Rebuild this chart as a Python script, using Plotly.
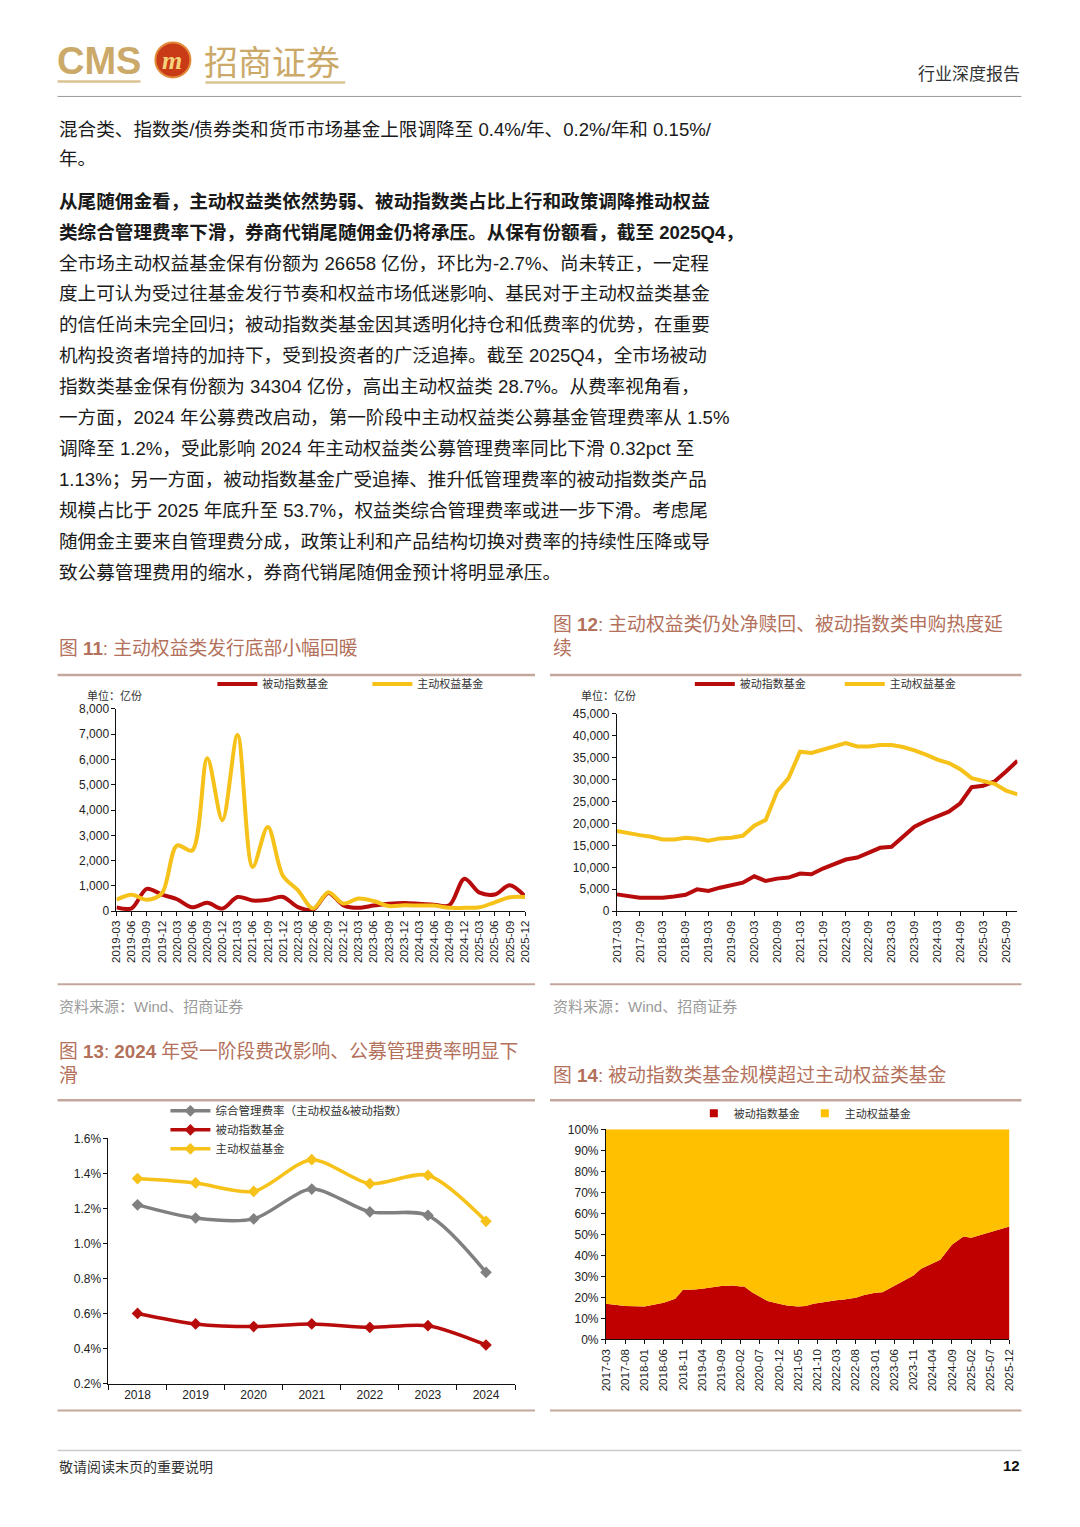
import plotly.graph_objects as go

W, H = 1080, 1527
K = 1 / 0.99  # compensates the slight shrink seen in the photographed page


def X(p):
    return (W / 2 + (p - W / 2) * K) / W


def Y(p):
    return 1 - (H / 2 + (p - H / 2) * K) / H


# ---------------- data ----------------
# Fig 11: quarterly issuance (亿份)
q11 = ["2019-03", "2019-06", "2019-09", "2019-12", "2020-03", "2020-06", "2020-09", "2020-12",
       "2021-03", "2021-06", "2021-09", "2021-12", "2022-03", "2022-06", "2022-09", "2022-12",
       "2023-03", "2023-06", "2023-09", "2023-12", "2024-03", "2024-06", "2024-09", "2024-12",
       "2025-03", "2025-06", "2025-09", "2025-12"]
passive11 = [150, 110, 880, 650, 470, 150, 330, 100, 560, 420, 450, 560, 160, 60, 720, 230,
             130, 220, 290, 320, 290, 250, 230, 1280, 730, 660, 1020, 580]
active11 = [450, 650, 450, 700, 2600, 2400, 6050, 3600, 6970, 1750, 3330, 1400, 820, 100, 750, 300,
            500, 400, 200, 230, 220, 220, 130, 130, 150, 350, 550, 560]

# Fig 12: quarterly holdings (亿份)
q12 = ["2017-03", "2017-06", "2017-09", "2017-12", "2018-03", "2018-06", "2018-09", "2018-12",
       "2019-03", "2019-06", "2019-09", "2019-12", "2020-03", "2020-06", "2020-09", "2020-12",
       "2021-03", "2021-06", "2021-09", "2021-12", "2022-03", "2022-06", "2022-09", "2022-12",
       "2023-03", "2023-06", "2023-09", "2023-12", "2024-03", "2024-06", "2024-09", "2024-12",
       "2025-03", "2025-06", "2025-09", "2025-12"]
passive12 = [3820, 3360, 3060, 3060, 3060, 3360, 3750, 4970, 4590, 5350, 6040, 6500, 7950, 6880,
             7420, 7650, 8560, 8410, 9710, 10700, 11770, 12230, 13460, 14450, 14680, 16970, 19270,
             20570, 21560, 22710, 24620, 28290, 28590, 29590, 31880, 34304]
active12 = [18270, 17700, 17350, 16970, 16360, 16360, 16740, 16500, 16050, 16600, 16740, 17200,
            19500, 20800, 27300, 30350, 36400, 36100, 36850, 37770, 38380, 37600, 37600, 37900,
            37900, 37460, 36700, 35700, 34560, 33800, 32400, 30350, 29740, 29050, 27520, 26658]
ticks12 = ["2017-03", "2017-09", "2018-03", "2018-09", "2019-03", "2019-09", "2020-03", "2020-09",
           "2021-03", "2021-09", "2022-03", "2022-09", "2023-03", "2023-09", "2024-03", "2024-09",
           "2025-03", "2025-09"]

# Fig 13: management fee rate (%)
years13 = ["2018", "2019", "2020", "2021", "2022", "2023", "2024"]
total13 = [1.22, 1.145, 1.14, 1.31, 1.18, 1.16, 0.835]
passive13 = [0.60, 0.54, 0.525, 0.54, 0.52, 0.53, 0.42]
active13 = [1.37, 1.345, 1.297, 1.478, 1.341, 1.389, 1.126]

# Fig 14: share of scale (%)
months14 = ["2017-03", "2017-06", "2017-08", "2018-01", "2018-03", "2018-06", "2018-09", "2018-11",
            "2019-02", "2019-04", "2019-09", "2019-12", "2020-02", "2020-03", "2020-05", "2020-07",
            "2020-09", "2020-12", "2021-02", "2021-05", "2021-07", "2021-09", "2021-10", "2021-12",
            "2022-03", "2022-05", "2022-08", "2022-10", "2023-01", "2023-03", "2023-06", "2023-09",
            "2023-11", "2024-01", "2024-04", "2024-06", "2024-09", "2024-12", "2025-02", "2025-04",
            "2025-07", "2025-12"]
passive14 = [17.0, 16.2, 15.9, 15.7, 16.5, 17.5, 19.4, 23.7, 23.8, 24.1, 25.4, 25.7, 25.2, 25.2,
             22.5, 20.5, 18.3, 17.0, 16.2, 15.7, 15.9, 17.0, 17.3, 17.8, 18.7, 19.0, 19.8, 21.0,
             22.2, 22.5, 25.4, 28.6, 30.5, 33.7, 36.3, 37.9, 45.1, 49.0, 48.4, 49.5, 51.1, 53.7]
active14 = [round(100 - p, 1) for p in passive14]
ticks14 = ["2017-03", "2017-08", "2018-01", "2018-06", "2018-11", "2019-04", "2019-09", "2020-02",
           "2020-07", "2020-12", "2021-05", "2021-10", "2022-03", "2022-08", "2023-01", "2023-06",
           "2023-11", "2024-04", "2024-09", "2025-02", "2025-07", "2025-12"]

RED = "#B80C0C"
YEL = "#F6C21A"
GRAY = "#808080"
AREA_RED = "#C00000"
AREA_YEL = "#FFC000"
TITLE_C = "#B3705A"
FONT = "Liberation Sans, Noto Sans CJK SC"
CJK = "Noto Sans CJK SC"

fig = go.Figure()

# Fig 11
fig.add_trace(go.Scatter(x=q11, y=passive11, name="被动指数基金", mode="lines",
                         line=dict(color=RED, width=4, shape="spline", smoothing=0.9),
                         xaxis="x", yaxis="y", legend="legend"))
fig.add_trace(go.Scatter(x=q11, y=active11, name="主动权益基金", mode="lines",
                         line=dict(color=YEL, width=4, shape="spline", smoothing=0.9),
                         xaxis="x", yaxis="y", legend="legend"))
# Fig 12
fig.add_trace(go.Scatter(x=q12, y=passive12, name="被动指数基金", mode="lines",
                         line=dict(color=RED, width=4),
                         xaxis="x2", yaxis="y2", legend="legend2"))
fig.add_trace(go.Scatter(x=q12, y=active12, name="主动权益基金", mode="lines",
                         line=dict(color=YEL, width=4),
                         xaxis="x2", yaxis="y2", legend="legend2"))
# Fig 13
fig.add_trace(go.Scatter(x=years13, y=total13, name="综合管理费率（主动权益&被动指数）",
                         mode="lines+markers",
                         line=dict(color=GRAY, width=3.5, shape="spline", smoothing=0.8),
                         marker=dict(symbol="diamond", size=9, color=GRAY),
                         xaxis="x3", yaxis="y3", legend="legend3"))
fig.add_trace(go.Scatter(x=years13, y=passive13, name="被动指数基金",
                         mode="lines+markers",
                         line=dict(color=RED, width=3.5, shape="spline", smoothing=0.8),
                         marker=dict(symbol="diamond", size=9, color=RED),
                         xaxis="x3", yaxis="y3", legend="legend3"))
fig.add_trace(go.Scatter(x=years13, y=active13, name="主动权益基金",
                         mode="lines+markers",
                         line=dict(color=YEL, width=3.5, shape="spline", smoothing=0.8),
                         marker=dict(symbol="diamond", size=9, color=YEL),
                         xaxis="x3", yaxis="y3", legend="legend3"))
# Fig 14
fig.add_trace(go.Scatter(x=months14, y=passive14, name="被动指数基金", mode="lines",
                         stackgroup="s", line=dict(width=0, color=AREA_RED), fillcolor=AREA_RED,
                         showlegend=False, xaxis="x4", yaxis="y4"))
fig.add_trace(go.Scatter(x=months14, y=active14, name="主动权益基金", mode="lines",
                         stackgroup="s", line=dict(width=0, color=AREA_YEL), fillcolor=AREA_YEL,
                         showlegend=False, xaxis="x4", yaxis="y4"))
fig.add_trace(go.Scatter(x=[None], y=[None], name="被动指数基金", mode="markers",
                         marker=dict(symbol="square", size=8, color=AREA_RED),
                         xaxis="x4", yaxis="y4", legend="legend4"))
fig.add_trace(go.Scatter(x=[None], y=[None], name="主动权益基金", mode="markers",
                         marker=dict(symbol="square", size=8, color=AREA_YEL),
                         xaxis="x4", yaxis="y4", legend="legend4"))

tickfont = dict(family="Liberation Sans", size=12, color="#222")
rotfont = dict(family="Liberation Sans", size=11.5, color="#222")
common_ax = dict(showgrid=False, zeroline=False, showline=True, linecolor="#111", linewidth=1,
                 ticks="outside", ticklen=4, tickcolor="#111", tickfont=tickfont, fixedrange=True)
legfont = dict(family=CJK, size=11, color="#333")

fig.update_layout(
    width=W, height=H, margin=dict(l=0, r=0, t=0, b=0),
    paper_bgcolor="white", plot_bgcolor="white",
    font=dict(family=FONT, color="#222"),
    xaxis=dict(common_ax, domain=[X(116), X(525)], anchor="y", type="category",
               range=[0, 27], tickangle=-90, tickfont=rotfont),
    yaxis=dict(common_ax, domain=[Y(911), Y(709)], anchor="x", range=[0, 8000], dtick=1000,
               tickformat=","),
    xaxis2=dict(common_ax, domain=[X(617), X(1018)], anchor="y2", type="category",
                range=[0, 35], tickangle=-90, tickvals=ticks12, tickfont=rotfont),
    yaxis2=dict(common_ax, domain=[Y(911), Y(714)], anchor="x2", range=[0, 45000], dtick=5000,
                tickformat=","),
    xaxis3=dict(common_ax, domain=[X(108), X(515)], anchor="y3", type="category",
                range=[-0.5, 6.5], tickson="boundaries", ticklen=5),
    yaxis3=dict(common_ax, domain=[Y(1383), Y(1138)], anchor="x3", range=[0.2, 1.6], dtick=0.2,
                tickformat=".1f", ticksuffix="%"),
    xaxis4=dict(common_ax, domain=[X(606), X(1010)], anchor="y4", type="date",
                range=["2017-03-01", "2025-12-01"], tickvals=ticks14, tickformat="%Y-%m",
                tickangle=-90, tickfont=rotfont),
    yaxis4=dict(common_ax, domain=[Y(1339), Y(1129)], anchor="x4", range=[0, 100], dtick=10,
                ticksuffix="%"),
    legend=dict(orientation="h", x=X(212), y=Y(684), xanchor="left", yanchor="middle",
                font=legfont, bgcolor="rgba(0,0,0,0)", traceorder="normal",
                itemwidth=40, entrywidth=100),
    legend2=dict(orientation="h", x=X(690), y=Y(684), xanchor="left", yanchor="middle",
                 font=legfont, bgcolor="rgba(0,0,0,0)", traceorder="normal",
                 itemwidth=40, entrywidth=95),
    legend3=dict(orientation="v", x=X(165), y=Y(1096), xanchor="left", yanchor="top",
                 font=dict(family=CJK, size=11.5, color="#333"), bgcolor="rgba(0,0,0,0)",
                 traceorder="normal", itemwidth=40, tracegroupgap=0),
    legend4=dict(orientation="h", x=X(694), y=Y(1113), xanchor="left", yanchor="middle",
                 font=legfont, bgcolor="rgba(0,0,0,0)", traceorder="normal",
                 itemwidth=30, entrywidth=0),
)

ann = []


def text(x, y, s, size=18, color="#222", family=FONT, anchor="left", **kw):
    ann.append(dict(xref="paper", yref="paper", x=X(x), y=Y(y), text=s, showarrow=False,
                    xanchor=anchor, yanchor="middle", borderpad=0,
                    font=dict(size=size, color=color, family=family), **kw))


# header
text(55, 62, "<b>CMS</b>", size=38, color="#CBA969", family="Liberation Sans")
text(172, 61, "<b><i>m</i></b>", size=26, color="#F5D27A", family="Liberation Serif", anchor="center")
text(203, 61, "招商证券", size=34, color="#CBA969", family=CJK)
text(1022, 73, "行业深度报告", size=17, color="#333", family=CJK, anchor="right")

# body text
body = [
    (130, "混合类、指数类/债券类和货币市场基金上限调降至 0.4%/年、0.2%/年和 0.15%/"),
    (159, "年。"),
    (202, "<b>从尾随佣金看，主动权益类依然势弱、被动指数类占比上行和政策调降推动权益</b>"),
    (233, "<b>类综合管理费率下滑，券商代销尾随佣金仍将承压。从保有份额看，截至 2025Q4，</b>"),
    (264, "全市场主动权益基金保有份额为 26658 亿份，环比为-2.7%、尚未转正，一定程"),
    (294, "度上可认为受过往基金发行节奏和权益市场低迷影响、基民对于主动权益类基金"),
    (325, "的信任尚未完全回归；被动指数类基金因其透明化持仓和低费率的优势，在重要"),
    (356, "机构投资者增持的加持下，受到投资者的广泛追捧。截至 2025Q4，全市场被动"),
    (387, "指数类基金保有份额为 34304 亿份，高出主动权益类 28.7%。从费率视角看，"),
    (418, "一方面，2024 年公募费改启动，第一阶段中主动权益类公募基金管理费率从 1.5%"),
    (449, "调降至 1.2%，受此影响 2024 年主动权益类公募管理费率同比下滑 0.32pct 至"),
    (480, "1.13%；另一方面，被动指数基金广受追捧、推升低管理费率的被动指数类产品"),
    (511, "规模占比于 2025 年底升至 53.7%，权益类综合管理费率或进一步下滑。考虑尾"),
    (542, "随佣金主要来自管理费分成，政策让利和产品结构切换对费率的持续性压降或导"),
    (573, "致公募管理费用的缩水，券商代销尾随佣金预计将明显承压。"),
]
for yy, s in body:
    text(57, yy, s, size=18.6, color="#1a1a1a")

# chart titles
TS = 18.8
text(57, 649, "图 <b>11</b>: 主动权益类发行底部小幅回暖", size=TS, color=TITLE_C)
text(552, 625, "图 <b>12</b>: 主动权益类仍处净赎回、被动指数类申购热度延", size=TS, color=TITLE_C)
text(552, 649, "续", size=TS, color=TITLE_C)
text(57, 1051, "图 <b>13</b>: <b>2024</b> 年受一阶段费改影响、公募管理费率明显下", size=TS, color=TITLE_C)
text(57, 1075, "滑", size=TS, color=TITLE_C)
text(552, 1075, "图 <b>14</b>: 被动指数类基金规模超过主动权益类基金", size=TS, color=TITLE_C)

# units
text(85, 695, "单位：亿份", size=11, color="#333", family=CJK)
text(580, 695, "单位：亿份", size=11, color="#333", family=CJK)

# sources
text(57, 1006, "资料来源：Wind、招商证券", size=15, color="#9a9a9a")
text(552, 1006, "资料来源：Wind、招商证券", size=15, color="#9a9a9a")

# footer
text(57, 1465, "敬请阅读末页的重要说明", size=14, color="#333", family=CJK)
text(1022, 1465, "<b>12</b>", size=15, color="#111", family="Liberation Sans", anchor="right")

fig.update_layout(annotations=ann)

shapes = []


def hline(x0, x1, y, color, width):
    shapes.append(dict(type="line", xref="paper", yref="paper", x0=X(x0), x1=X(x1), y0=Y(y), y1=Y(y),
                       line=dict(color=color, width=width)))


# header lines
hline(57, 140, 82, "#D9C393", 2.5)
hline(205, 345, 83, "#D9C393", 2.5)
hline(57, 1022, 97, "#9a9a9a", 1)
# logo circle
shapes.append(dict(type="circle", xref="paper", yref="paper", x0=X(155), x1=X(190), y0=Y(78), y1=Y(43),
                   fillcolor="#C93A17", line=dict(color="#E08A3A", width=2)))
# chart frames
frame_c = "#C4A79C"
for (a, b) in [(57, 535), (550, 1022)]:
    hline(a, b, 675, frame_c, 2.5)
    hline(a, b, 984, frame_c, 2)
    hline(a, b, 1100, frame_c, 2.5)
    hline(a, b, 1410, frame_c, 2)
hline(57, 1022, 1450, "#cccccc", 1.5)

fig.update_layout(shapes=shapes)

post = ("document.documentElement.style.margin='0';document.documentElement.style.padding='0';"
        "document.body.style.margin='0';document.body.style.padding='0';"
        "document.documentElement.style.overflow='hidden';document.body.style.overflow='hidden';")
fig.write_html("out.html", post_script=post, config={"displayModeBar": False})
